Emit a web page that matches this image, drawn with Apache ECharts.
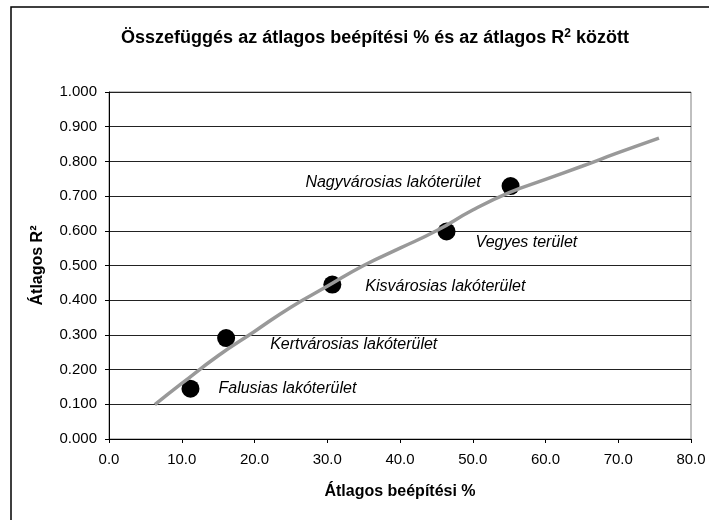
<!DOCTYPE html>
<html>
<head>
<meta charset="utf-8">
<script src="https://cdn.jsdelivr.net/npm/echarts@6/dist/echarts.min.js"></script>
<style>
    html, body { margin: 0; padding: 0; background: #fff; }
    #chart { width: 709px; height: 520px; }
</style>
</head>
<body>
<div id="chart"></div>
<script>
// pontok (átlagos beépítési %, átlagos R²)
const categories = ['Falusias lakóterület', 'Kertvárosias lakóterület', 'Kisvárosias lakóterület', 'Vegyes terület', 'Nagyvárosias lakóterület'];
const builtX = [11.2, 16.1, 30.7, 46.4, 55.2];
const r2Y = [0.145, 0.291, 0.445, 0.598, 0.729];

// trendvonal
const trendX = [6.3, 10, 15, 20, 25, 30, 35, 40, 45, 50, 55, 60, 65, 70, 75.6];
const trendY = [0.099, 0.16, 0.24, 0.31, 0.38, 0.44, 0.50, 0.55, 0.60, 0.66, 0.71, 0.748, 0.786, 0.825, 0.867];

const font = '"Liberation Sans", Arial, sans-serif';

// címke eltolások pontonként
const labelPos = [
    { align: 'left', offset: [28, 0] },
    { align: 'left', offset: [44, 7] },
    { align: 'left', offset: [33, 2] },
    { align: 'left', offset: [29, 11] },
    { align: 'right', offset: [-30, -3] }
];

var chart = echarts.init(document.getElementById('chart'));

var option = {
    animation: false,
    backgroundColor: '#fff',
    title: {
        text: '{a|Összefüggés az átlagos beépítési % és az átlagos R}{s|2}{a| között}',
        left: 370,
        top: 23,
        textAlign: 'center',
        textStyle: {
            rich: {
                a: { fontFamily: font, fontSize: 18, fontWeight: 'bold', color: '#000' },
                s: { fontFamily: font, fontSize: 12, fontWeight: 'bold', color: '#000', verticalAlign: 'top', padding: [0, 0, 9, 0] }
            }
        }
    },
    graphic: [{
        type: 'rect',
        shape: { x: 11, y: 7, width: 800, height: 600 },
        style: { fill: 'none', stroke: '#000', lineWidth: 1.5 },
        silent: true
    }],
    grid: {
        left: 109,
        right: 18,
        top: 92,
        bottom: 81,
        show: true,
        borderColor: '#808080',
        borderWidth: 1
    },
    xAxis: {
        type: 'value',
        min: 0,
        max: 80,
        interval: 10,
        name: 'Átlagos beépítési %',
        nameLocation: 'middle',
        nameGap: 45,
        nameTextStyle: { fontFamily: font, fontSize: 16, fontWeight: 'bold', color: '#000' },
        axisLine: { show: true, lineStyle: { color: '#000', width: 1 } },
        axisTick: { show: true, length: 4, lineStyle: { color: '#000' } },
        axisLabel: {
            fontFamily: font, fontSize: 15, color: '#000', margin: 13,
            formatter: v => v.toFixed(1)
        },
        splitLine: { show: false }
    },
    yAxis: {
        type: 'value',
        min: 0,
        max: 1,
        interval: 0.1,
        name: 'Átlagos R²',
        nameLocation: 'middle',
        nameGap: 63,
        nameRotate: 90,
        nameTextStyle: { fontFamily: font, fontSize: 16, fontWeight: 'bold', color: '#000' },
        axisLine: { show: true, lineStyle: { color: '#000', width: 1 } },
        axisTick: { show: true, length: 4, lineStyle: { color: '#000' } },
        axisLabel: {
            fontFamily: font, fontSize: 15, color: '#000', margin: 12,
            formatter: v => v.toFixed(3)
        },
        splitLine: { show: true, lineStyle: { color: '#222', width: 1 } }
    },
    series: [{
        name: 'pontok',
        type: 'scatter',
        symbol: 'circle',
        symbolSize: 18,
        itemStyle: { color: '#000', opacity: 1 },
        z: 2,
        data: builtX.map((x, i) => ({
            value: [x, r2Y[i]],
            name: categories[i],
            label: {
                show: true,
                position: 'inside',
                align: labelPos[i].align,
                verticalAlign: 'middle',
                offset: labelPos[i].offset,
                formatter: '{b}',
                fontFamily: font,
                fontSize: 16,
                fontStyle: 'italic',
                color: '#000'
            }
        }))
    }, {
        name: 'trend',
        type: 'line',
        smooth: true,
        symbol: 'none',
        z: 3,
        lineStyle: { color: '#999', width: 3.5 },
        data: trendX.map((x, i) => [x, trendY[i]])
    }]
};

chart.setOption(option);
</script>
</body>
</html>
